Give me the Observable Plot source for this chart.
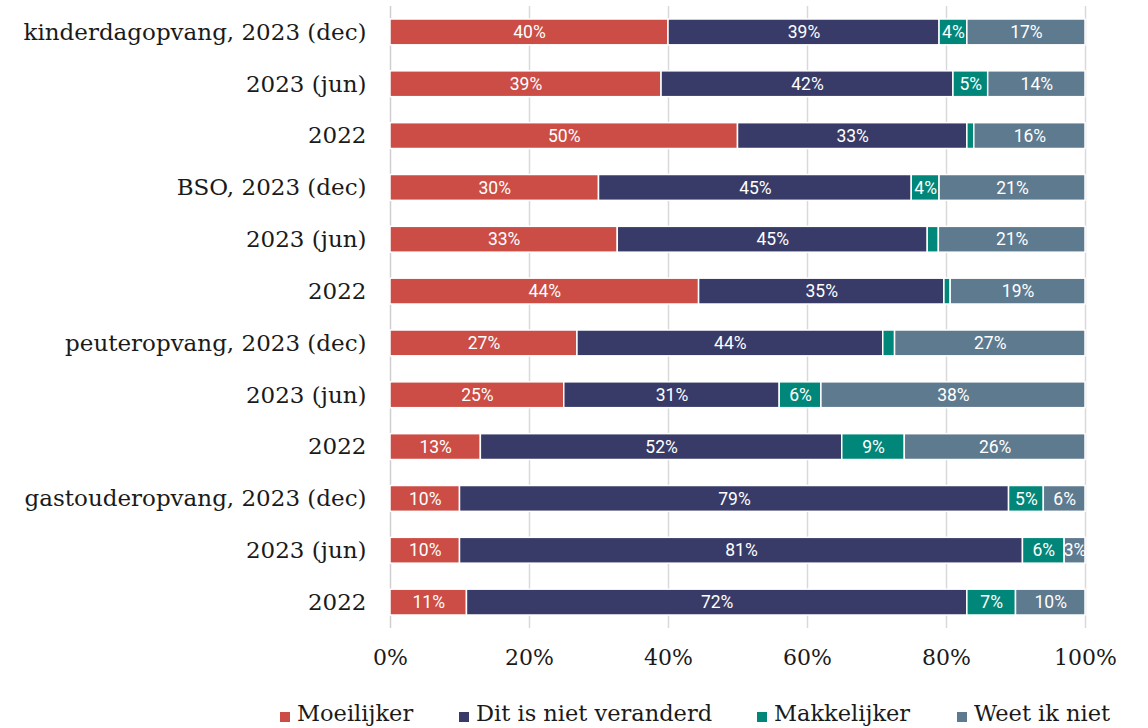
<!DOCTYPE html>
<html>
<head>
<meta charset="utf-8">
<script src="https://cdn.jsdelivr.net/npm/d3@7"></script>
<script src="https://cdn.jsdelivr.net/npm/@observablehq/plot@0.6"></script>
<style>
  html, body { margin: 0; padding: 0; background: #fff; }
  #wrap { position: relative; width: 1148px; height: 728px; overflow: hidden; }
  #legend { position: absolute; left: 0; top: 699px; width: 1148px; height: 29px;
    font-family: "DejaVu Serif", serif; font-size: 22.5px; color: #1a1a1a; white-space: nowrap; }
  #legend span.item { position: absolute; top: 0; display: flex; align-items: center; line-height: 28px; }
  #legend span.sw { display: inline-block; width: 10px; height: 10px; margin-right: 7px; margin-top: 7px; }
</style>
</head>
<body>
<div id="wrap"><div id="chart"></div><div id="legend"></div></div>
<script>
const groups = ["kinderdagopvang", "BSO", "peuteropvang", "gastouderopvang"];
const periods = ["2023 (dec)", "2023 (jun)", "2022"];
const series = ["Moeilijker", "Dit is niet veranderd", "Makkelijker", "Weet ik niet"];
const colors = ["#CB4D45", "#383B68", "#00877A", "#5E7A8F"];

// one value per row: kinderdagopvang (dec, jun, 2022), BSO (...), peuteropvang (...), gastouderopvang (...)
const moeilijker     = [40, 39, 50, 30, 32.7, 44.4, 26.9, 25, 13, 10, 10, 11];
const nietVeranderd  = [39, 42, 33, 45, 44.6, 35.3, 44, 31, 52, 79, 81, 72];
const makkelijker    = [4, 5, 1, 4, 1.6, 0.9, 1.7, 6, 9, 5, 6, 7];
const weetIkNiet     = [17, 14, 16, 21, 21.1, 19.4, 27.4, 38, 26, 6, 3, 10];
const xTicks = [0, 20, 40, 60, 80, 100];

const valueSets = [moeilijker, nietVeranderd, makkelijker, weetIkNiet];
const rows = [];
groups.forEach((g, gi) => periods.forEach((p, pi) => {
  rows.push({key: g + "|" + p, label: pi === 0 ? `${g}, ${p}` : p, idx: gi * 3 + pi});
}));
const labelOf = new Map(rows.map(r => [r.key, r.label]));
const data = [];
rows.forEach(r => series.forEach((s, si) => {
  data.push({row: r.key, series: s, value: valueSets[si][r.idx]});
}));

const order = series;
const chart = Plot.plot({
  width: 1148,
  height: 690,
  marginLeft: 390,
  marginRight: 63,
  marginTop: 6,
  marginBottom: 62,
  style: {fontFamily: "DejaVu Serif, serif", fontSize: "22px", color: "#1a1a1a", background: "#fff"},
  x: {domain: [0, 100], ticks: xTicks, tickFormat: d => d + "%", tickSize: 0, tickPadding: 21, label: null},
  y: {domain: rows.map(r => r.key), padding: 0, round: false, tickSize: 0, tickPadding: 24, tickFormat: k => labelOf.get(k), label: null},
  color: {domain: series, range: colors},
  marks: [
    Plot.ruleX(xTicks.slice(1), {stroke: "#d9d9d9", strokeWidth: 1.5}),
    Plot.ruleX([0], {stroke: "#cfcfcf", strokeWidth: 1.5}),
    Plot.barX(data, Plot.stackX({order, x: "value", y: "row", fill: "series",
      insetTop: 13, insetBottom: 13, stroke: "#fff", strokeWidth: 1.5})),
    Plot.text(data, Plot.stackX({order, x: "value", y: "row", z: "series",
      text: d => d.value >= 2.5 ? Math.round(d.value) + "%" : "",
      fill: "#fff", fontFamily: "Roboto, sans-serif", fontSize: 17.5, letterSpacing: "-0.3px"}))
  ]
});
chart.querySelectorAll("g[aria-label='y-axis tick label'] text").forEach(t => t.style.fontSize = "23px");
document.getElementById("chart").appendChild(chart);

const legend = document.getElementById("legend");
const legendLeft = [280, 459, 757, 957];
series.forEach((s, i) => {
  const item = document.createElement("span");
  item.className = "item";
  item.style.left = legendLeft[i] + "px";
  item.innerHTML = `<span class="sw" style="background:${colors[i]}"></span>${s}`;
  legend.appendChild(item);
});
</script>
</body>
</html>
